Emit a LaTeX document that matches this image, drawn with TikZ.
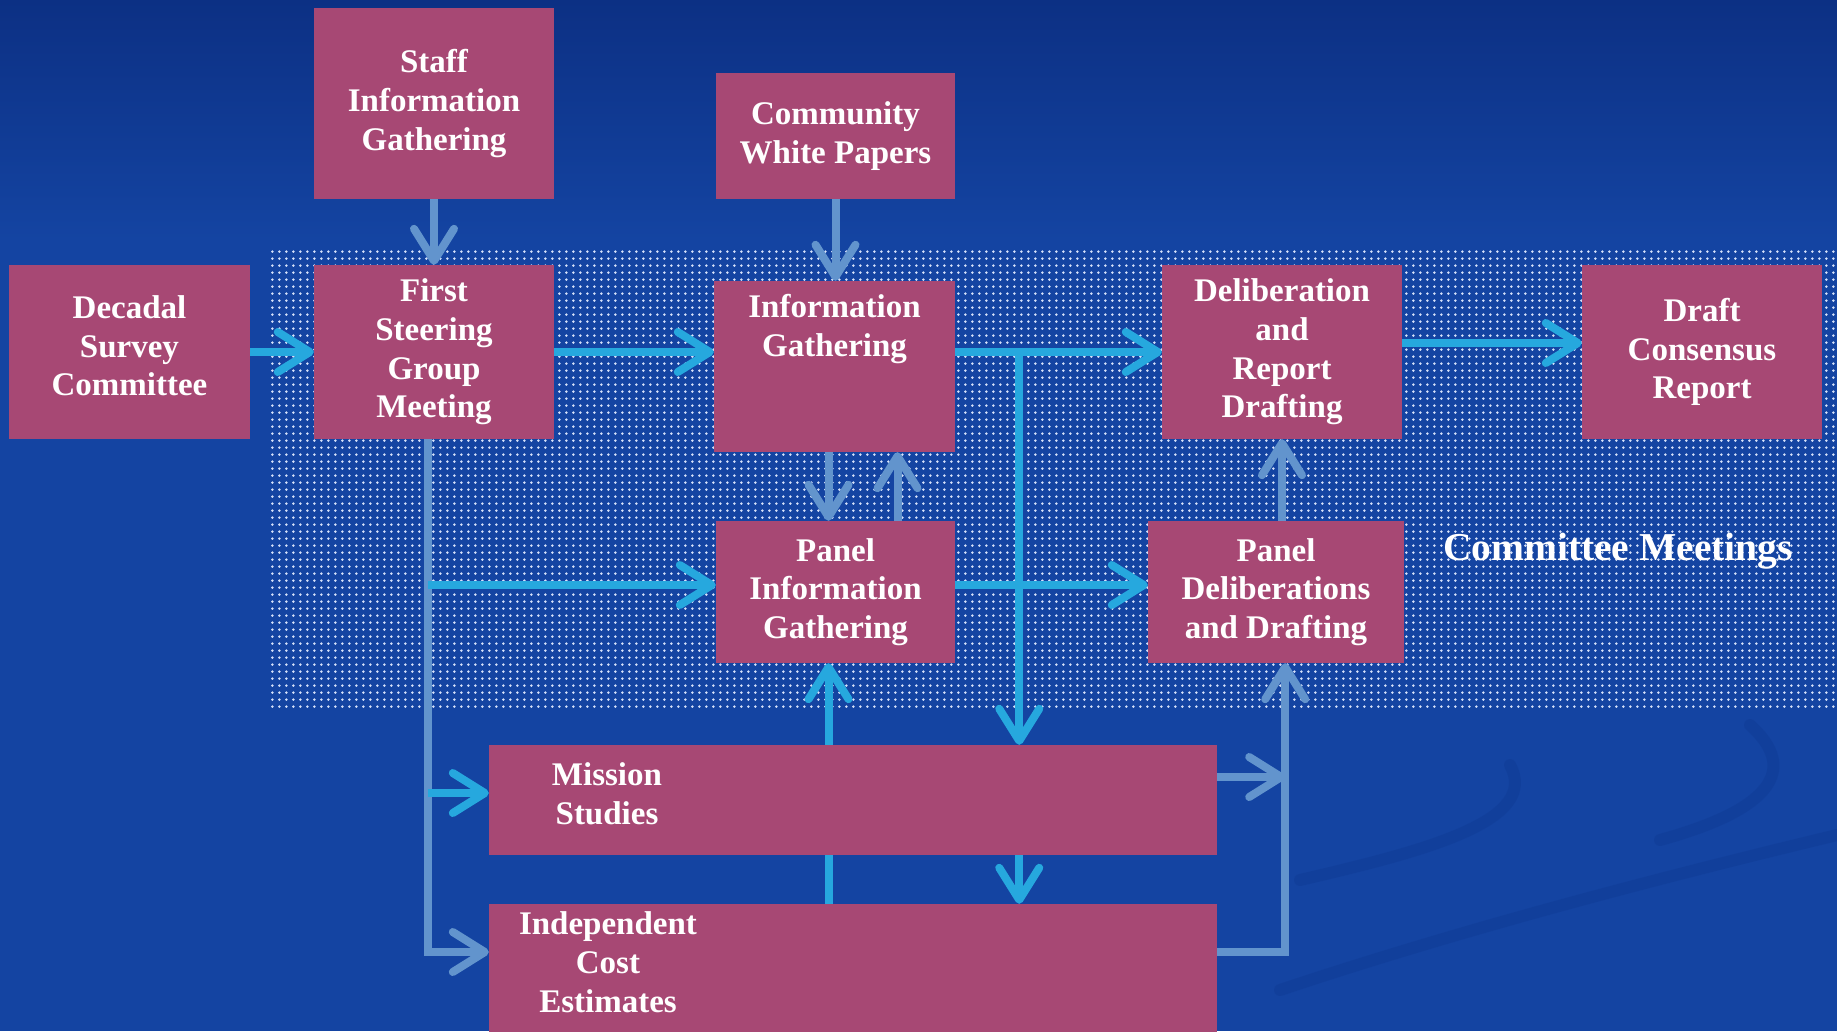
\documentclass[tikz,border=0pt]{standalone}
\usepackage{fontspec}
\setmainfont{Liberation Serif}
\usetikzlibrary{arrows.meta}
\usetikzlibrary{calc}
\usetikzlibrary{patterns.meta}

\definecolor{slidebg}{RGB}{20,68,162}
\definecolor{slidetop}{RGB}{12,48,132}
\definecolor{swoosh}{RGB}{16,60,150}
\definecolor{boxfill}{RGB}{167,72,116}
\definecolor{flowcyan}{RGB}{38,168,222}
\definecolor{flowsteel}{RGB}{98,148,205}
\definecolor{dotwhite}{RGB}{215,226,250}

\newcommand{\boxfont}{\fontsize{33}{38.7}\selectfont\bfseries}

\tikzset{
  box/.style={fill=boxfill, text=white, font=\boxfont, align=center, inner sep=0pt},
  boxtext/.style={text=white, font=\boxfont, align=center, inner sep=0pt},
  flow/.style={line width=8pt},
  cyanarrow/.style={flow, draw=flowcyan, -{Straight Barb[length=32pt,width=40pt,round]}},
  steelarrow/.style={flow, draw=flowsteel, -{Straight Barb[length=32pt,width=40pt,round]}},
}

\begin{document}
\begin{tikzpicture}[x=1pt,y=-1pt]
    \useasboundingbox (0,0) rectangle (1837,1031);
    \clip (0,0) rectangle (1837,1031);

    % Background: plain blue, darker towards the top, faint swooshes low right
    \fill[slidebg] (0,0) rectangle (1837,1031);
    \shade[top color=slidetop, bottom color=slidebg] (0,0) rectangle (1837,240);
    \begin{scope}[draw=swoosh, line width=12pt, line cap=round, opacity=0.55]
    \draw (1300,880) .. controls (1430,850) and (1540,820) .. (1510,765);
    \draw (1660,840) .. controls (1770,810) and (1800,770) .. (1750,725);
    \draw (1280,990) .. controls (1460,930) and (1650,880) .. (1837,835);
    \end{scope}

    % Dotted band behind the committee meetings
    \fill[pattern={Dots[distance=7.4pt,radius=1.5pt]}, pattern color=dotwhite]
        (267,248) rectangle (1837,710);
    \node[text=white, font=\fontsize{39.5}{46}\selectfont\bfseries] (meetings) at (1618,551) {Committee Meetings};

    % Boxes
    \node[box, minimum width=240pt, minimum height=191pt] (staff) at (434,103.5) {Staff\\Information\\Gathering};
    \node[box, minimum width=239pt, minimum height=126pt] (papers) at (835.5,136) {Community\\White Papers};
    \node[box, minimum width=241pt, minimum height=174pt] (decadal) at (129.5,352) {};
    \node[boxtext] (decadallabel) at (129.5,346) {Decadal\\Survey\\Committee};
    \node[box, minimum width=240pt, minimum height=174pt] (steering) at (434,352) {First\\Steering\\Group\\Meeting};
    \node[box, minimum width=241pt, minimum height=171pt] (info) at (834.5,366.5) {};
    \node[boxtext] (infolabel) at (834.5,329) {Information\\Gathering};
    \node[box, minimum width=240pt, minimum height=174pt] (delib) at (1282,352) {Deliberation\\and\\Report\\Drafting};
    \node[box, minimum width=240pt, minimum height=174pt] (draft) at (1702,352) {Draft\\Consensus\\Report};
    \node[box, minimum width=239pt, minimum height=142pt] (panelinfo) at (835.5,592) {Panel\\Information\\Gathering};
    \node[box, minimum width=256pt, minimum height=142pt] (paneldelib) at (1276,592) {Panel\\Deliberations\\and Drafting};
    \node[box, minimum width=728pt, minimum height=110pt] (missions) at (853,800) {};
    \node[boxtext] (missionlabel) at (607,794) {Mission\\Studies};
    \node[box, minimum width=728pt, minimum height=146pt] (costs) at (853,977) {};
    \node[boxtext] (costlabel) at (608,962) {Independent\\Cost\\Estimates};

    % Inputs from above
    \draw[steelarrow] (staff) -- (steering);
    \draw[steelarrow] (papers.south) -- (papers.south |- info.north);

    % Main row
    \draw[cyanarrow] (decadal) -- (steering);
    \draw[cyanarrow] (steering.east) -- (steering.east -| info.west);
    \draw[cyanarrow] (steering.east -| info.east) -- (delib.west);
    \draw[cyanarrow] ([yshift=9pt]delib.east) -- ([yshift=9pt]draft.west);
    \coordinate (split) at ($(steering.east -| info.east)!0.31!(delib.west)$);
    \draw[cyanarrow] (split) -- (split |- missions.north);

    % Between the two rows
    \draw[steelarrow] ([xshift=-6pt]info.south) -- ([xshift=-6pt]info.south |- panelinfo.north);
    \draw[steelarrow] ([xshift=63pt]info.south |- panelinfo.north) -- ([xshift=63pt]info.south);
    \draw[steelarrow] (delib.south |- paneldelib.north) -- (delib.south);
    \draw[cyanarrow] ([yshift=7pt]panelinfo.east) -- ([yshift=7pt]paneldelib.west);

    % Trunk down the left side
    \coordinate (trunk) at ([xshift=-6pt]steering.south);
    \draw[steelarrow] (trunk) |- ([yshift=25pt]costs.west);
    \coordinate (tap1) at ([yshift=7pt]panelinfo.west);
    \draw[cyanarrow] (tap1 -| trunk) -- (tap1);
    \coordinate (tap2) at ([yshift=7pt]missions.west);
    \draw[cyanarrow] (tap2 -| trunk) -- (tap2);

    % Studies and estimates
    \coordinate (feed) at ([xshift=-7pt]panelinfo.south);
    \draw[flow, draw=flowcyan] (feed |- costs.north) -- (feed |- missions.south);
    \draw[cyanarrow] (feed |- missions.north) -- (feed);
    \draw[cyanarrow] (split |- missions.south) -- (split |- costs.north);

    % Right-hand riser
    \coordinate (riser) at ([xshift=68pt]costs.east);
    \coordinate (mout) at ([yshift=23pt]missions.east);
    \draw[steelarrow] (mout) -- (mout -| riser);
    \coordinate (cout) at ([yshift=25pt]costs.east);
    \draw[steelarrow] (cout) -| (riser |- paneldelib.south);
\end{tikzpicture}
\end{document}
